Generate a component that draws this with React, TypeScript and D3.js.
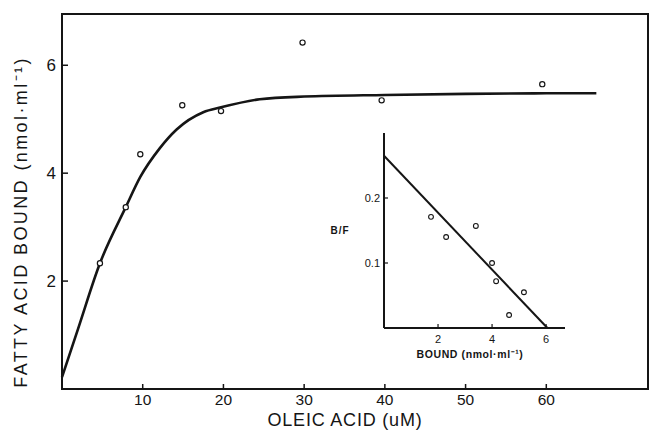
import { useEffect, useRef } from 'react';
import * as d3 from 'd3';

// main plot: observed binding
const oleicUM = [4.7, 7.9, 9.7, 14.9, 19.7, 29.8, 39.6, 59.5];
const boundNmol = [2.33, 3.37, 4.35, 5.26, 5.15, 6.42, 5.35, 5.65];

// fitted saturation curve
const fitX = [0, 2, 4.7, 7.9, 9.7, 12.1, 14.2, 17.5, 19.7, 24.5, 30, 40, 50, 60, 66.2];
const fitY = [0.22, 1.12, 2.33, 3.37, 3.93, 4.46, 4.81, 5.13, 5.22, 5.37, 5.42, 5.45, 5.47, 5.48, 5.48];

const mainXTicks = [10, 20, 30, 40, 50, 60];
const mainYTicks = [2, 4, 6];

// inset: Scatchard plot
const insetBound = [1.74, 2.3, 3.4, 4.0, 4.15, 5.18, 4.63];
const insetBF = [0.171, 0.14, 0.157, 0.1, 0.072, 0.055, 0.02];
const insetLineX = [0, 6.05];
const insetLineY = [0.265, 0];
const insetXTicks = [2, 4, 6];
const insetYTicks = [0.1, 0.2];

export default function App() {
  const svgRef = useRef<SVGSVGElement>(null);

  useEffect(() => {
    if (!svgRef.current) return;
    const svg = d3.select(svgRef.current);
    svg.selectAll('*').remove();

    const ink = '#151515';
    const font = '"Liberation Sans", Arial, sans-serif';

    const x = d3.scaleLinear().domain([0, 72.6]).range([62, 648]);
    const y = d3.scaleLinear().domain([0, 6.95]).range([389, 14]);

    // frame
    svg.append('rect')
      .attr('x', x(0)).attr('y', y(6.95))
      .attr('width', x(72.6) - x(0)).attr('height', y(0) - y(6.95))
      .attr('fill', 'none').attr('stroke', ink).attr('stroke-width', 2);

    // ticks (inward)
    svg.selectAll('.xt').data(mainXTicks).join('line')
      .attr('x1', d => x(d)).attr('x2', d => x(d))
      .attr('y1', y(0)).attr('y2', y(0) - 5)
      .attr('stroke', ink).attr('stroke-width', 1.5);
    svg.selectAll('.xl').data(mainXTicks).join('text')
      .attr('x', d => x(d)).attr('y', y(0) + 16)
      .attr('text-anchor', 'middle')
      .attr('font-family', font).attr('font-size', 15.5).attr('fill', ink)
      .text(d => d);

    svg.selectAll('.yt').data(mainYTicks).join('line')
      .attr('x1', x(0)).attr('x2', x(0) + 6)
      .attr('y1', d => y(d)).attr('y2', d => y(d))
      .attr('stroke', ink).attr('stroke-width', 1.5);
    svg.selectAll('.yl').data(mainYTicks).join('text')
      .attr('x', x(0) - 6).attr('y', d => y(d) + 6)
      .attr('text-anchor', 'end')
      .attr('font-family', font).attr('font-size', 17).attr('fill', ink)
      .text(d => d);

    // axis titles
    svg.append('text')
      .attr('x', 345).attr('y', 426)
      .attr('text-anchor', 'middle')
      .attr('font-family', font).attr('font-size', 18).attr('letter-spacing', 0.8).attr('fill', ink)
      .text('OLEIC ACID (uM)');
    svg.append('text')
      .attr('transform', 'translate(27,222) rotate(-90)')
      .attr('text-anchor', 'middle')
      .attr('font-family', font).attr('font-size', 18).attr('letter-spacing', 2.4).attr('fill', ink)
      .text('FATTY ACID BOUND (nmol·ml⁻¹)');

    // fitted curve
    const fit = d3.zip(fitX, fitY) as [number, number][];
    svg.append('path')
      .attr('d', d3.line<[number, number]>()
        .x(d => x(d[0])).y(d => y(d[1]))
        .curve(d3.curveMonotoneX)(fit))
      .attr('fill', 'none').attr('stroke', ink).attr('stroke-width', 2.6);

    svg.selectAll('.pt').data(d3.zip(oleicUM, boundNmol)).join('circle')
      .attr('cx', d => x(d[0])).attr('cy', d => y(d[1]))
      .attr('r', 2.6).attr('fill', 'white').attr('stroke', ink).attr('stroke-width', 1.2);

    // inset
    const ix = d3.scaleLinear().domain([0, 6.7]).range([384, 565]);
    const iy = d3.scaleLinear().domain([0, 0.3]).range([328, 133]);

    svg.append('line')
      .attr('x1', ix(0)).attr('x2', ix(0)).attr('y1', iy(0)).attr('y2', iy(0.3))
      .attr('stroke', ink).attr('stroke-width', 2);
    svg.append('line')
      .attr('x1', ix(0)).attr('x2', ix(6.7)).attr('y1', iy(0)).attr('y2', iy(0))
      .attr('stroke', ink).attr('stroke-width', 2);

    svg.selectAll('.ixt').data(insetXTicks).join('line')
      .attr('x1', d => ix(d)).attr('x2', d => ix(d))
      .attr('y1', iy(0)).attr('y2', iy(0) - 4)
      .attr('stroke', ink).attr('stroke-width', 1.2);
    svg.selectAll('.ixl').data(insetXTicks).join('text')
      .attr('x', d => ix(d)).attr('y', iy(0) + 15)
      .attr('text-anchor', 'middle')
      .attr('font-family', font).attr('font-size', 11).attr('fill', ink)
      .text(d => d);

    svg.selectAll('.iyt').data(insetYTicks).join('line')
      .attr('x1', ix(0)).attr('x2', ix(0) + 4)
      .attr('y1', d => iy(d)).attr('y2', d => iy(d))
      .attr('stroke', ink).attr('stroke-width', 1.2);
    svg.selectAll('.iyl').data(insetYTicks).join('text')
      .attr('x', ix(0) - 4).attr('y', d => iy(d) + 4)
      .attr('text-anchor', 'end')
      .attr('font-family', font).attr('font-size', 11).attr('fill', ink)
      .text(d => d3.format('.1f')(d));

    svg.append('text')
      .attr('x', 340).attr('y', 234)
      .attr('text-anchor', 'middle')
      .attr('font-family', font).attr('font-size', 10).attr('font-weight', 'bold')
      .attr('letter-spacing', 1).attr('fill', ink)
      .text('B/F');
    svg.append('text')
      .attr('x', 470).attr('y', 358)
      .attr('text-anchor', 'middle')
      .attr('font-family', font).attr('font-size', 10.5).attr('font-weight', 'bold')
      .attr('letter-spacing', 0.6).attr('fill', ink)
      .text('BOUND (nmol·ml⁻¹)');

    svg.append('line')
      .attr('x1', ix(insetLineX[0])).attr('y1', iy(insetLineY[0]))
      .attr('x2', ix(insetLineX[1])).attr('y2', iy(insetLineY[1]))
      .attr('stroke', ink).attr('stroke-width', 2);

    svg.selectAll('.ipt').data(d3.zip(insetBound, insetBF)).join('circle')
      .attr('cx', d => ix(d[0])).attr('cy', d => iy(d[1]))
      .attr('r', 2.4).attr('fill', 'white').attr('stroke', ink).attr('stroke-width', 1.1);
  }, []);

  return (
    <svg
      ref={svgRef}
      width={651}
      height={432}
      style={{ position: 'absolute', left: 0, top: 0, background: 'white' }}
    />
  );
}
